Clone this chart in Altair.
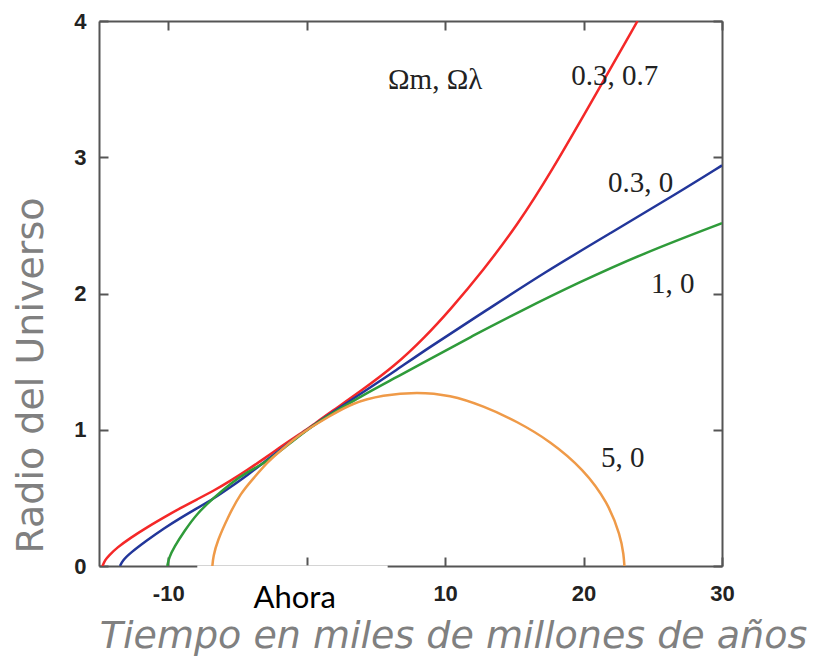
import altair as alt
import pandas as pd

# ---- data ----
series_names = ["0.3, 0.7", "0.3, 0", "1, 0", "5, 0"]
series_colors = ["#f42828", "#22369a", "#2f9b3a", "#ef9a48"]

red_t = [-14.75, -14.55, -14.3, -13.7, -12.75, -11.52, -10.29, -9.13, -7.90, -6.67, -5.51, -4.28, -3.04,
         -1.88, -0.65, 0.0, 0.58, 1.74, 3.99, 6.38, 8.55, 10.36, 12.75, 15.2, 17.6, 21.1, 23.9]
red_r = [0.0, 0.045, 0.075, 0.135, 0.205, 0.285, 0.358, 0.425, 0.49, 0.555, 0.625, 0.705, 0.79,
         0.875, 0.96, 1.0, 1.045, 1.13, 1.29, 1.47, 1.68, 1.88, 2.17, 2.50, 2.88, 3.50, 4.0]

blue_t = [-13.48, -13.3, -12.75, -11.52, -10.29, -9.13, -7.90, -6.67, -5.51, -4.28, -3.04, -1.88, 0.0,
          1.74, 3.99, 6.38, 8.55, 13.04, 17.10, 21.96, 26.81, 30.0]
blue_r = [0.0, 0.04, 0.095, 0.19, 0.278, 0.352, 0.425, 0.498, 0.579, 0.667, 0.765, 0.855, 1.0,
          1.12, 1.27, 1.43, 1.585, 1.88, 2.15, 2.444, 2.738, 2.94]

green_t = [-10.07, -9.95, -9.57, -8.84, -7.90, -6.67, -5.51, -4.28, -3.04, -1.88, 0.0,
           1.74, 3.99, 6.38, 8.55, 12.0, 15.43, 19.57, 24.35, 30.0]
green_r = [0.0, 0.06, 0.139, 0.256, 0.388, 0.505, 0.605, 0.69, 0.755, 0.845, 1.0,
           1.115, 1.25, 1.38, 1.50, 1.69, 1.87, 2.077, 2.297, 2.517]

orange_t = [-6.81, -6.75, -6.45, -5.72, -4.78, -3.77, -2.83, -2.10, -1.0, 0.0, 1.67, 3.26, 5.51, 7.97,
            10.36, 12.75, 15.22, 17.61, 20.0, 21.74, 22.68, 22.9, 22.95]
orange_r = [0.0, 0.07, 0.183, 0.352, 0.535, 0.652, 0.762, 0.828, 0.925, 1.0, 1.10, 1.195, 1.255, 1.278,
            1.255, 1.175, 1.06, 0.915, 0.71, 0.47, 0.22, 0.08, 0.0]

x_ticks = [-10, 0, 10, 20, 30]
y_ticks = [0, 1, 2, 3, 4]

note_text = ["\u03a9m, \u03a9\u03bb", "0.3, 0.7", "0.3, 0", "1, 0", "5, 0"]
note_t = [9.28, 22.25, 24.13, 26.45, 22.83]
note_r = [3.567, 3.60, 2.81, 2.07, 0.79]

now_text = ["Ahora"]
now_t = [0.0]
now_r = [0.0]

gap_t = [-7.9, 5.85]      # blank stretch of the bottom axis around "Ahora"
gap_r = [0.004, -0.36]

# ---- tables ----
rows = []
for name, ts, rs in zip(series_names,
                        [red_t, blue_t, green_t, orange_t],
                        [red_r, blue_r, green_r, orange_r]):
    for i, (t, r) in enumerate(zip(ts, rs)):
        rows.append({"serie": name, "t": t, "r": r, "i": i})
df = pd.DataFrame(rows)
df_note = pd.DataFrame({"label": note_text, "t": note_t, "r": note_r})
df_now = pd.DataFrame({"label": now_text, "t": now_t, "r": now_r})
df_gap = pd.DataFrame({"x0": [gap_t[0]], "x1": [gap_t[1]], "y0": [gap_r[0]], "y1": [gap_r[1]]})

xscale = alt.Scale(domain=[-15, 30], nice=False, zero=False)
yscale = alt.Scale(domain=[0, 4], nice=False, zero=False)

frame = dict(domainColor="#555555", domainWidth=2, tickColor="#555555", tickWidth=2,
             tickSize=alt.ExprRef(expr="-9"), grid=False)
label_style = dict(labelFont="Liberation Sans", labelFontWeight="bold", labelFontSize=22,
                   labelColor="#222222")
title_style = dict(titleFont="DejaVu Sans", titleFontSize=38, titleFontWeight="normal",
                   titleColor="#808080")

x_axis = alt.Axis(orient="bottom", values=x_ticks,
                  labelExpr="datum.value == 0 ? '' : '' + datum.value",
                  labelPadding=26, labelFlush=False, labelBaseline="top",
                  title="Tiempo en miles de millones de años", titleFontStyle="italic",
                  titleX=354, titleY=81, titleAlign="center", titleBaseline="alphabetic",
                  **label_style, **title_style, **frame)
y_axis = alt.Axis(orient="left", values=y_ticks, labelPadding=22,
                  title="Radio del Universo", titleAngle=270,
                  titleX=-68, titleY=354, titleAlign="center", titleBaseline="middle",
                  **label_style, **title_style, **frame)
x_top = alt.Axis(orient="top", values=x_ticks, labels=False, title="", **frame)
y_right = alt.Axis(orient="right", values=y_ticks, labels=False, title="", **frame)

gap = alt.Chart(df_gap).mark_rect(color="white").encode(
    x=alt.X("x0:Q", scale=xscale, axis=None),
    x2="x1:Q",
    y=alt.Y("y0:Q", scale=yscale, axis=None),
    y2="y1:Q",
)

lines = alt.Chart(df).mark_line(strokeWidth=2.5, interpolate="basis", clip=True).encode(
    x=alt.X("t:Q", scale=xscale, axis=x_axis),
    y=alt.Y("r:Q", scale=yscale, axis=y_axis),
    color=alt.Color("serie:N", scale=alt.Scale(domain=series_names, range=series_colors), legend=None),
    order="i:Q",
)

notes = alt.Chart(df_note).mark_text(font="Liberation Serif", fontSize=29, color="#222222",
                                     align="center", baseline="middle").encode(
    x=alt.X("t:Q", scale=xscale, axis=x_top),
    y=alt.Y("r:Q", scale=yscale, axis=y_right),
    text="label:N",
)

now = alt.Chart(df_now).mark_text(font="Lato", fontSize=31, color="black", align="center",
                                  baseline="alphabetic", dx=-12, dy=42).encode(
    x=alt.X("t:Q", scale=xscale, axis=None),
    y=alt.Y("r:Q", scale=yscale, axis=None),
    text="label:N",
)

chart = alt.layer(gap, lines, notes, now).properties(
    width=623, height=545,
    autosize=alt.AutoSizeParams(type="none"),
    padding={"left": 91, "top": 13, "right": 92, "bottom": 96},
    background="white",
).configure_view(strokeWidth=0)

chart.save("out.html", embed_options={"renderer": "svg", "actions": False})
